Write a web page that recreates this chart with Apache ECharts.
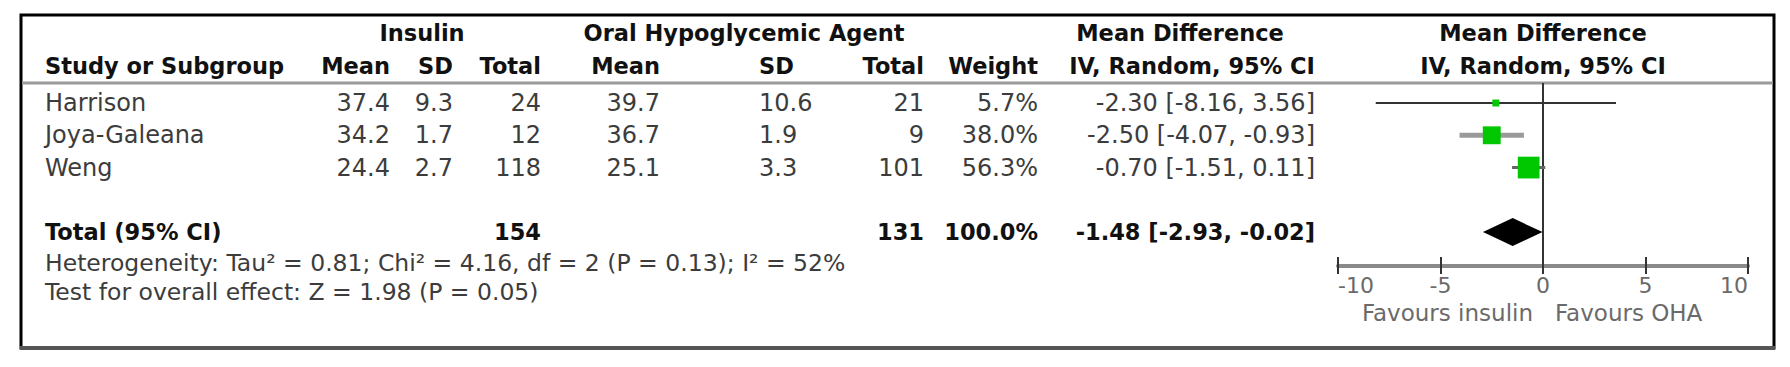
<!DOCTYPE html>
<html><head><meta charset="utf-8">
<script src="https://cdn.jsdelivr.net/npm/echarts@6/dist/echarts.min.js"></script>
<style>html,body{margin:0;padding:0;background:#fff}#c{width:1790px;height:367px}</style>
</head><body><div id="c"></div>
<script>
// ---- data ----
const studies = ['Harrison', 'Joya-Galeana', 'Weng'];
const insulinMean = [37.4, 34.2, 24.4];
const insulinSD = [9.3, 1.7, 2.7];
const insulinTotal = [24, 12, 118];
const ohaMean = [39.7, 36.7, 25.1];
const ohaSD = [10.6, 1.9, 3.3];
const ohaTotal = [21, 9, 101];
const weights = [5.7, 38.0, 56.3];
const meanDiff = [-2.30, -2.50, -0.70];
const ciLow = [-8.16, -4.07, -1.51];
const ciHigh = [3.56, -0.93, 0.11];
const totalLabel = 'Total (95% CI)';
const totalN = [154, 131];
const totalWeight = [100.0];
const totalEffect = [-1.48, -2.93, -0.02]; // estimate, low, high
const xTicks = [-10, -5, 0, 5, 10];
const heterogeneityText = 'Heterogeneity: Tau² = 0.81; Chi² = 4.16, df = 2 (P = 0.13); I² = 52%';
const overallText = 'Test for overall effect: Z = 1.98 (P = 0.05)';
const favoursLabels = ['Favours insulin', 'Favours OHA'];

// ---- layout / style ----
const FONT = '"DejaVu Sans", Verdana, sans-serif';
const REG = 24, BOLD = 22.5;
const TXT = '#3c3c3c', DARK = '#111';
const TOTAL_ROW = studies.length + 1;
const cols = {
  name: [45, 'left'], insMean: [390, 'right'], insSD: [453, 'right'], insN: [541, 'right'],
  ohaMean: [660, 'right'], ohaSD: [759, 'left'], ohaN: [924, 'right'], weight: [1038, 'right'], md: [1315, 'right']
};
const ciStroke = ['#333', '#9a9a9a', '#666'];
const ciWidth = [2, 5, 3];

const fmt2 = v => v.toFixed(2);
const ciText = (m, l, h) => fmt2(m) + ' [' + fmt2(l) + ', ' + fmt2(h) + ']';

function txt(x, y, s, align, bold, size, color) {
  return { type: 'text', x: x, y: y, silent: true, style: {
    text: s, align: align, verticalAlign: 'middle', fontFamily: FONT,
    fontSize: size || (bold ? BOLD : REG), fontWeight: bold ? 'bold' : 'normal',
    fill: color || (bold ? DARK : TXT) } };
}

const chart = echarts.init(document.getElementById('c'), null, { renderer: 'svg' });

const tableData = studies.map((s, i) => [0, i]).concat([[0, TOTAL_ROW]]);
const forestData = studies.map((s, i) => [meanDiff[i], i, ciLow[i], ciHigh[i], weights[i]]);

const option = {
  animation: false,
  backgroundColor: '#fff',
  grid: { left: 1338, width: 410, top: 83, height: 183, containLabel: false },
  xAxis: [{
    type: 'value', min: -10, max: 10, interval: 5, position: 'bottom',
    axisLine: { show: true, onZero: false, lineStyle: { color: '#8a8a8a', width: 4 } },
    axisTick: { show: true, length: 8, lineStyle: { color: '#333', width: 2 } },
    axisLabel: { show: true, fontSize: 22, fontFamily: FONT, color: '#6a6a6a', margin: 8,
      alignMinLabel: 'left', alignMaxLabel: 'right',
      formatter: v => (xTicks.indexOf(v) >= 0 ? String(v) : '') },
    splitLine: { show: false }
  }, {
    type: 'value', min: -10, max: 10, interval: 5, position: 'bottom',
    axisLine: { show: false, onZero: false },
    axisTick: { show: true, inside: true, length: 9, lineStyle: { color: '#333', width: 2 } },
    axisLabel: { show: false }, splitLine: { show: false }
  }],
  yAxis: { type: 'value', inverse: true, min: -0.62, max: 5.05, show: false },
  series: [
    {
      type: 'custom', name: 'studies', xAxisIndex: 0, data: forestData, silent: true, z: 5,
      renderItem: function (params, api) {
        const k = params.dataIndex;
        const p = api.coord([api.value(0), api.value(1)]);
        const a = api.coord([api.value(2), api.value(1)]);
        const b = api.coord([api.value(3), api.value(1)]);
        const side = 2.9 * Math.sqrt(api.value(4));
        return { type: 'group', children: [
          { type: 'line', shape: { x1: a[0], y1: a[1], x2: b[0], y2: b[1] },
            style: { stroke: ciStroke[k], lineWidth: ciWidth[k] } },
          { type: 'rect', shape: { x: p[0] - side / 2, y: p[1] - side / 2, width: side, height: side },
            style: { fill: '#00c800' } }
        ] };
      },
      markLine: { silent: true, symbol: 'none', label: { show: false },
        lineStyle: { color: '#333', width: 2, type: 'solid' }, data: [{ xAxis: 0 }] }
    },
    {
      type: 'custom', name: 'total', data: [[totalEffect[0], TOTAL_ROW, totalEffect[1], totalEffect[2]]], silent: true, z: 6,
      renderItem: function (params, api) {
        const c = api.coord([api.value(0), api.value(1)]);
        const l = api.coord([api.value(2), api.value(1)]);
        const r = api.coord([api.value(3), api.value(1)]);
        const h = 14;
        return { type: 'polygon', shape: { points: [[l[0], c[1]], [c[0], c[1] - h], [r[0], c[1]], [c[0], c[1] + h]] },
          style: { fill: '#000' } };
      }
    },
    {
      type: 'custom', name: 'table', data: tableData, silent: true, clip: false, z: 4,
      renderItem: function (params, api) {
        const i = params.dataIndex;
        const y = api.coord([0, api.value(1)])[1];
        const put = (key, s, bold) => txt(cols[key][0], y, s, cols[key][1], bold);
        if (i < studies.length) {
          return { type: 'group', children: [
            put('name', studies[i]),
            put('insMean', insulinMean[i].toFixed(1)),
            put('insSD', insulinSD[i].toFixed(1)),
            put('insN', String(insulinTotal[i])),
            put('ohaMean', ohaMean[i].toFixed(1)),
            put('ohaSD', ohaSD[i].toFixed(1)),
            put('ohaN', String(ohaTotal[i])),
            put('weight', weights[i].toFixed(1) + '%'),
            put('md', ciText(meanDiff[i], ciLow[i], ciHigh[i]))
          ] };
        }
        return { type: 'group', children: [
          put('name', totalLabel, true),
          put('insN', String(totalN[0]), true),
          put('ohaN', String(totalN[1]), true),
          put('weight', totalWeight[0].toFixed(1) + '%', true),
          put('md', ciText(totalEffect[0], totalEffect[1], totalEffect[2]), true)
        ] };
      }
    }
  ],
  graphic: [
    { type: 'rect', shape: { x: 21, y: 15, width: 1753, height: 333 }, silent: true, z: 0,
      style: { fill: null, stroke: '#000', lineWidth: 3 } },
    { type: 'line', shape: { x1: 20, y1: 348, x2: 1775, y2: 348 }, silent: true, z: 1,
      style: { stroke: '#555', lineWidth: 4 } },
    { type: 'line', shape: { x1: 22, y1: 83, x2: 1773, y2: 83 }, silent: true, z: 1,
      style: { stroke: '#9a9a9a', lineWidth: 3 } },
    txt(422, 33, 'Insulin', 'center', true),
    txt(744, 33, 'Oral Hypoglycemic Agent', 'center', true),
    txt(1180, 33, 'Mean Difference', 'center', true),
    txt(1543, 33, 'Mean Difference', 'center', true),
    txt(45, 66, 'Study or Subgroup', 'left', true),
    txt(390, 66, 'Mean', 'right', true),
    txt(453, 66, 'SD', 'right', true),
    txt(541, 66, 'Total', 'right', true),
    txt(660, 66, 'Mean', 'right', true),
    txt(759, 66, 'SD', 'left', true),
    txt(924, 66, 'Total', 'right', true),
    txt(1038, 66, 'Weight', 'right', true),
    txt(1315, 66, 'IV, Random, 95% CI', 'right', true),
    txt(1543, 66, 'IV, Random, 95% CI', 'center', true),
    txt(45, 263, heterogeneityText, 'left', false, 23.5),
    txt(45, 292, overallText, 'left', false, 23.5),
    txt(1533, 313, favoursLabels[0], 'right', false, 23, '#6a6a6a'),
    txt(1555, 313, favoursLabels[1], 'left', false, 23, '#6a6a6a')
  ]
};
chart.setOption(option);
</script>
</body></html>
